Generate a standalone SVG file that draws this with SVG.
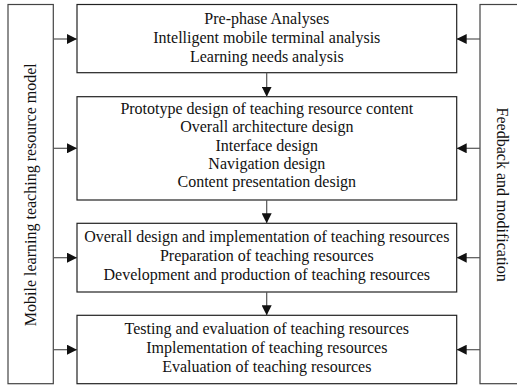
<svg xmlns="http://www.w3.org/2000/svg" width="517" height="386" viewBox="0 0 517 386">
<defs>
<style>
.box{fill:#fff;stroke:#222;stroke-width:1.2}
.side{fill:#fff;stroke:#444;stroke-width:1.2}
.t{font-family:"Liberation Serif","Times New Roman",serif;font-size:16px;fill:#111;text-anchor:middle}
.c{stroke:#555;stroke-width:1.2;fill:none;marker-end:url(#ah)}
</style>
<marker id="ah" markerWidth="10" markerHeight="10" refX="10" refY="5" orient="auto" markerUnits="userSpaceOnUse">
<path d="M0,0 L10,5 L0,10 Z" fill="#111"/>
</marker>
</defs>
<rect width="517" height="386" fill="#fff"/>
<g id="left-model">
<rect class="side" x="8" y="4.5" width="45.3" height="379.2"/>
<text class="t" transform="translate(35.5,194.7) rotate(-90)">Mobile learning teaching resource model</text>
</g>
<g id="right-feedback">
<rect class="side" x="480" y="4.5" width="45" height="379.2"/>
<text class="t" transform="translate(497,194.7) rotate(90)">Feedback and modification</text>
</g>
<g id="box1">
<rect class="box" x="77" y="4.5" width="379.7" height="68.2"/>
<text class="t" x="266.8" y="24">Pre-phase Analyses</text>
<text class="t" x="266.8" y="43.2">Intelligent mobile terminal analysis</text>
<text class="t" x="266.8" y="62.3">Learning needs analysis</text>
</g>
<g id="box2">
<rect class="box" x="77" y="96.7" width="379.7" height="103.3"/>
<text class="t" x="266.8" y="114">Prototype design of teaching resource content</text>
<text class="t" x="266.8" y="132.3">Overall architecture design</text>
<text class="t" x="266.8" y="150.6">Interface design</text>
<text class="t" x="266.8" y="168.9">Navigation design</text>
<text class="t" x="266.8" y="187.2">Content presentation design</text>
</g>
<g id="box3">
<rect class="box" x="77" y="223.3" width="379.7" height="68.7"/>
<text class="t" x="266.8" y="242">Overall design and implementation of teaching resources</text>
<text class="t" x="266.8" y="261">Preparation of teaching resources</text>
<text class="t" x="266.8" y="280">Development and production of teaching resources</text>
</g>
<g id="box4">
<rect class="box" x="77" y="315.3" width="379.7" height="68.4"/>
<text class="t" x="266.8" y="333.5">Testing and evaluation of teaching resources</text>
<text class="t" x="266.8" y="352.5">Implementation of teaching resources</text>
<text class="t" x="266.8" y="371.5">Evaluation of teaching resources</text>
</g>
<g id="connectors">
<line class="c" x1="53.3" y1="39" x2="77" y2="39"/>
<line class="c" x1="53.3" y1="148.3" x2="77" y2="148.3"/>
<line class="c" x1="53.3" y1="257.7" x2="77" y2="257.7"/>
<line class="c" x1="53.3" y1="349.7" x2="77" y2="349.7"/>
<line class="c" x1="480" y1="39" x2="456.7" y2="39"/>
<line class="c" x1="480" y1="148.3" x2="456.7" y2="148.3"/>
<line class="c" x1="480" y1="257.7" x2="456.7" y2="257.7"/>
<line class="c" x1="480" y1="349.7" x2="456.7" y2="349.7"/>
<line class="c" x1="266.7" y1="72.7" x2="266.7" y2="96.7"/>
<line class="c" x1="266.7" y1="200" x2="266.7" y2="223.3"/>
<line class="c" x1="266.7" y1="292" x2="266.7" y2="315.3"/>
</g>
</svg>
